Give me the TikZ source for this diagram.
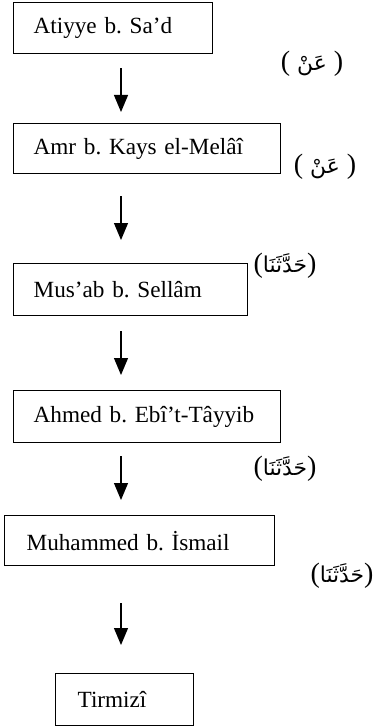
\documentclass[tikz,border=0pt]{standalone}
\usepackage{fontspec}
\setmainfont{Liberation Serif}
\newfontfamily\arabicfont[Script=Arabic,Scale=0.78]{DejaVu Sans}
\TeXXeTstate=1
\usetikzlibrary{arrows.meta}
\frenchspacing

\begin{document}
\begin{tikzpicture}[
  x=0.5pt, y=-0.5pt,
  every node/.style={font=\fontsize{11.6}{14}\selectfont},
  narrator/.style={draw, line width=0.65pt, align=left, inner xsep=10pt, minimum height=25.5pt, anchor=north west},
  isnad/.style={draw, line width=0.6pt, -{Triangle[width=7pt,length=8.5pt]}},
  phrase/.style={font=\fontsize{14}{16}\selectfont, inner sep=0pt}
]
\useasboundingbox (0,0) rectangle (376,727);
\coordinate (stem) at (121,0);

% narrators
\node[narrator, text width=79.5pt] (atiyye) at (13,2) {Atiyye b. Sa’d};
\node[narrator, text width=113.5pt, minimum height=25pt] (amr) at (13,123) {Amr b. Kays el-Melâî};
\node[narrator, text width=97pt, minimum height=26pt] (musab) at (13,263) {Mus’ab b. Sellâm};
\node[narrator, text width=113.5pt, minimum height=26pt] (ahmed) at (13,390) {Ahmed b. Ebî’t-Tâyyib};
\node[narrator, text width=113pt, inner xsep=11pt, minimum height=25pt] (muhammed) at (4,515) {Muhammed b. İsmail};
\node[narrator, text width=47pt, inner xsep=11pt, minimum height=26pt] (tirmizi) at (55,673) {Tirmizî};

% transmission terms
\node[phrase] (an1) at (312,64) {( {\arabicfont\beginR عَنْ\endR} )};
\node[phrase] (an2) at (325,167) {( {\arabicfont\beginR عَنْ\endR} )};
\node[phrase] (haddesena1) at (285,266) {({\arabicfont\beginR حَدَّثَنَا\endR})};
\node[phrase] (haddesena2) at (285,469) {({\arabicfont\beginR حَدَّثَنَا\endR})};
\node[phrase] (haddesena3) at (342,576) {({\arabicfont\beginR حَدَّثَنَا\endR})};

% arrows
\draw[isnad, shorten <=7pt, shorten >=5.5pt] (atiyye.south -| stem) -- (amr.north -| stem);
\draw[isnad, shorten <=11pt, shorten >=11.5pt] (amr.south -| stem) -- (musab.north -| stem);
\draw[isnad, shorten <=7.5pt, shorten >=7.5pt] (musab.south -| stem) -- (ahmed.north -| stem);
\draw[isnad, shorten <=6.5pt, shorten >=7.5pt] (ahmed.south -| stem) -- (muhammed.north -| stem);
\draw[isnad, shorten <=18.5pt, shorten >=14pt] (muhammed.south -| stem) -- (tirmizi.north -| stem);
\end{tikzpicture}
\end{document}
